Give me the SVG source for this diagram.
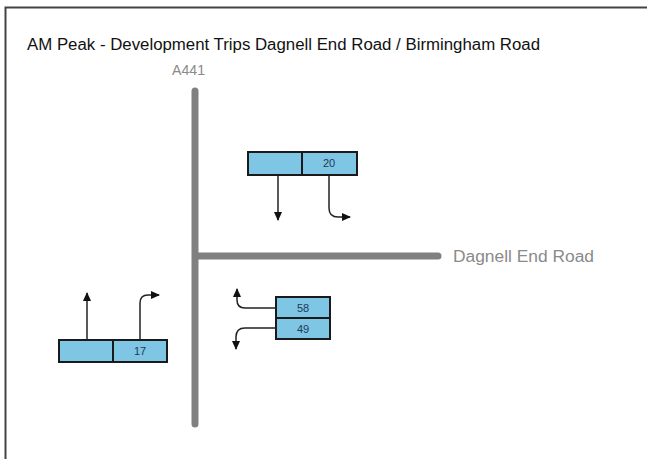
<svg xmlns="http://www.w3.org/2000/svg" width="647" height="459" viewBox="0 0 647 459">
<defs>
<style>
.t{font-family:"Liberation Sans",Arial,sans-serif}
.road{stroke:#808080;stroke-width:7;stroke-linecap:round;fill:none}
.box{fill:#7fc5e4;stroke:#1a1a1a;stroke-width:2}
.num{font-family:"Liberation Sans",Arial,sans-serif;font-size:11px;fill:#1c3a5a;text-anchor:middle}
.arr{fill:none;stroke:#222;stroke-width:1.5}
.lbl{font-family:"Liberation Sans",Arial,sans-serif;fill:#8a8a8a}
</style>
<marker id="ah" markerWidth="10" markerHeight="10" refX="8" refY="5" orient="auto" markerUnits="userSpaceOnUse">
<path d="M0,1 L9,5 L0,9 Z" fill="#111"/>
</marker>
</defs>
<rect width="647" height="459" fill="#fff"/>
<path d="M5.5,459 V7.5 H647" fill="none" stroke="#444" stroke-width="2"/>
<text class="t" x="27" y="50" font-size="16" fill="#111" textLength="513" lengthAdjust="spacingAndGlyphs">AM Peak - Development Trips Dagnell End Road / Birmingham Road</text>
<g id="roads">
<line class="road" x1="195" y1="91" x2="195" y2="424"/>
<line class="road" x1="198" y1="256" x2="438" y2="256"/>
<text class="lbl" x="172" y="75" font-size="14" textLength="33" lengthAdjust="spacingAndGlyphs">A441</text>
<text class="lbl" x="453" y="262" font-size="16" textLength="141" lengthAdjust="spacingAndGlyphs">Dagnell End Road</text>
</g>
<g id="node-top">
<rect class="box" x="248" y="152" width="54" height="23"/>
<rect class="box" x="302" y="152" width="55" height="23"/>
<text class="num" x="329" y="167">20</text>
</g>
<g id="node-right">
<rect class="box" x="276" y="297" width="54" height="21"/>
<rect class="box" x="276" y="318" width="54" height="21"/>
<text class="num" x="303" y="312">58</text>
<text class="num" x="303" y="333">49</text>
</g>
<g id="node-left">
<rect class="box" x="59" y="340" width="54" height="22"/>
<rect class="box" x="113" y="340" width="54" height="22"/>
<text class="num" x="140" y="355">17</text>
</g>
<g id="connectors">
<path class="arr" d="M278,175 V220" marker-end="url(#ah)"/>
<path class="arr" d="M329,175 V208 Q329,217 338,217 H350" marker-end="url(#ah)"/>
<path class="arr" d="M276,308 H245 Q237,308 237,300 V289" marker-end="url(#ah)"/>
<path class="arr" d="M276,328 H245 Q236,328 236,337 V349" marker-end="url(#ah)"/>
<path class="arr" d="M87,340 V293" marker-end="url(#ah)"/>
<path class="arr" d="M140,340 V303 Q140,295 148,295 H159" marker-end="url(#ah)"/>
</g>
</svg>
